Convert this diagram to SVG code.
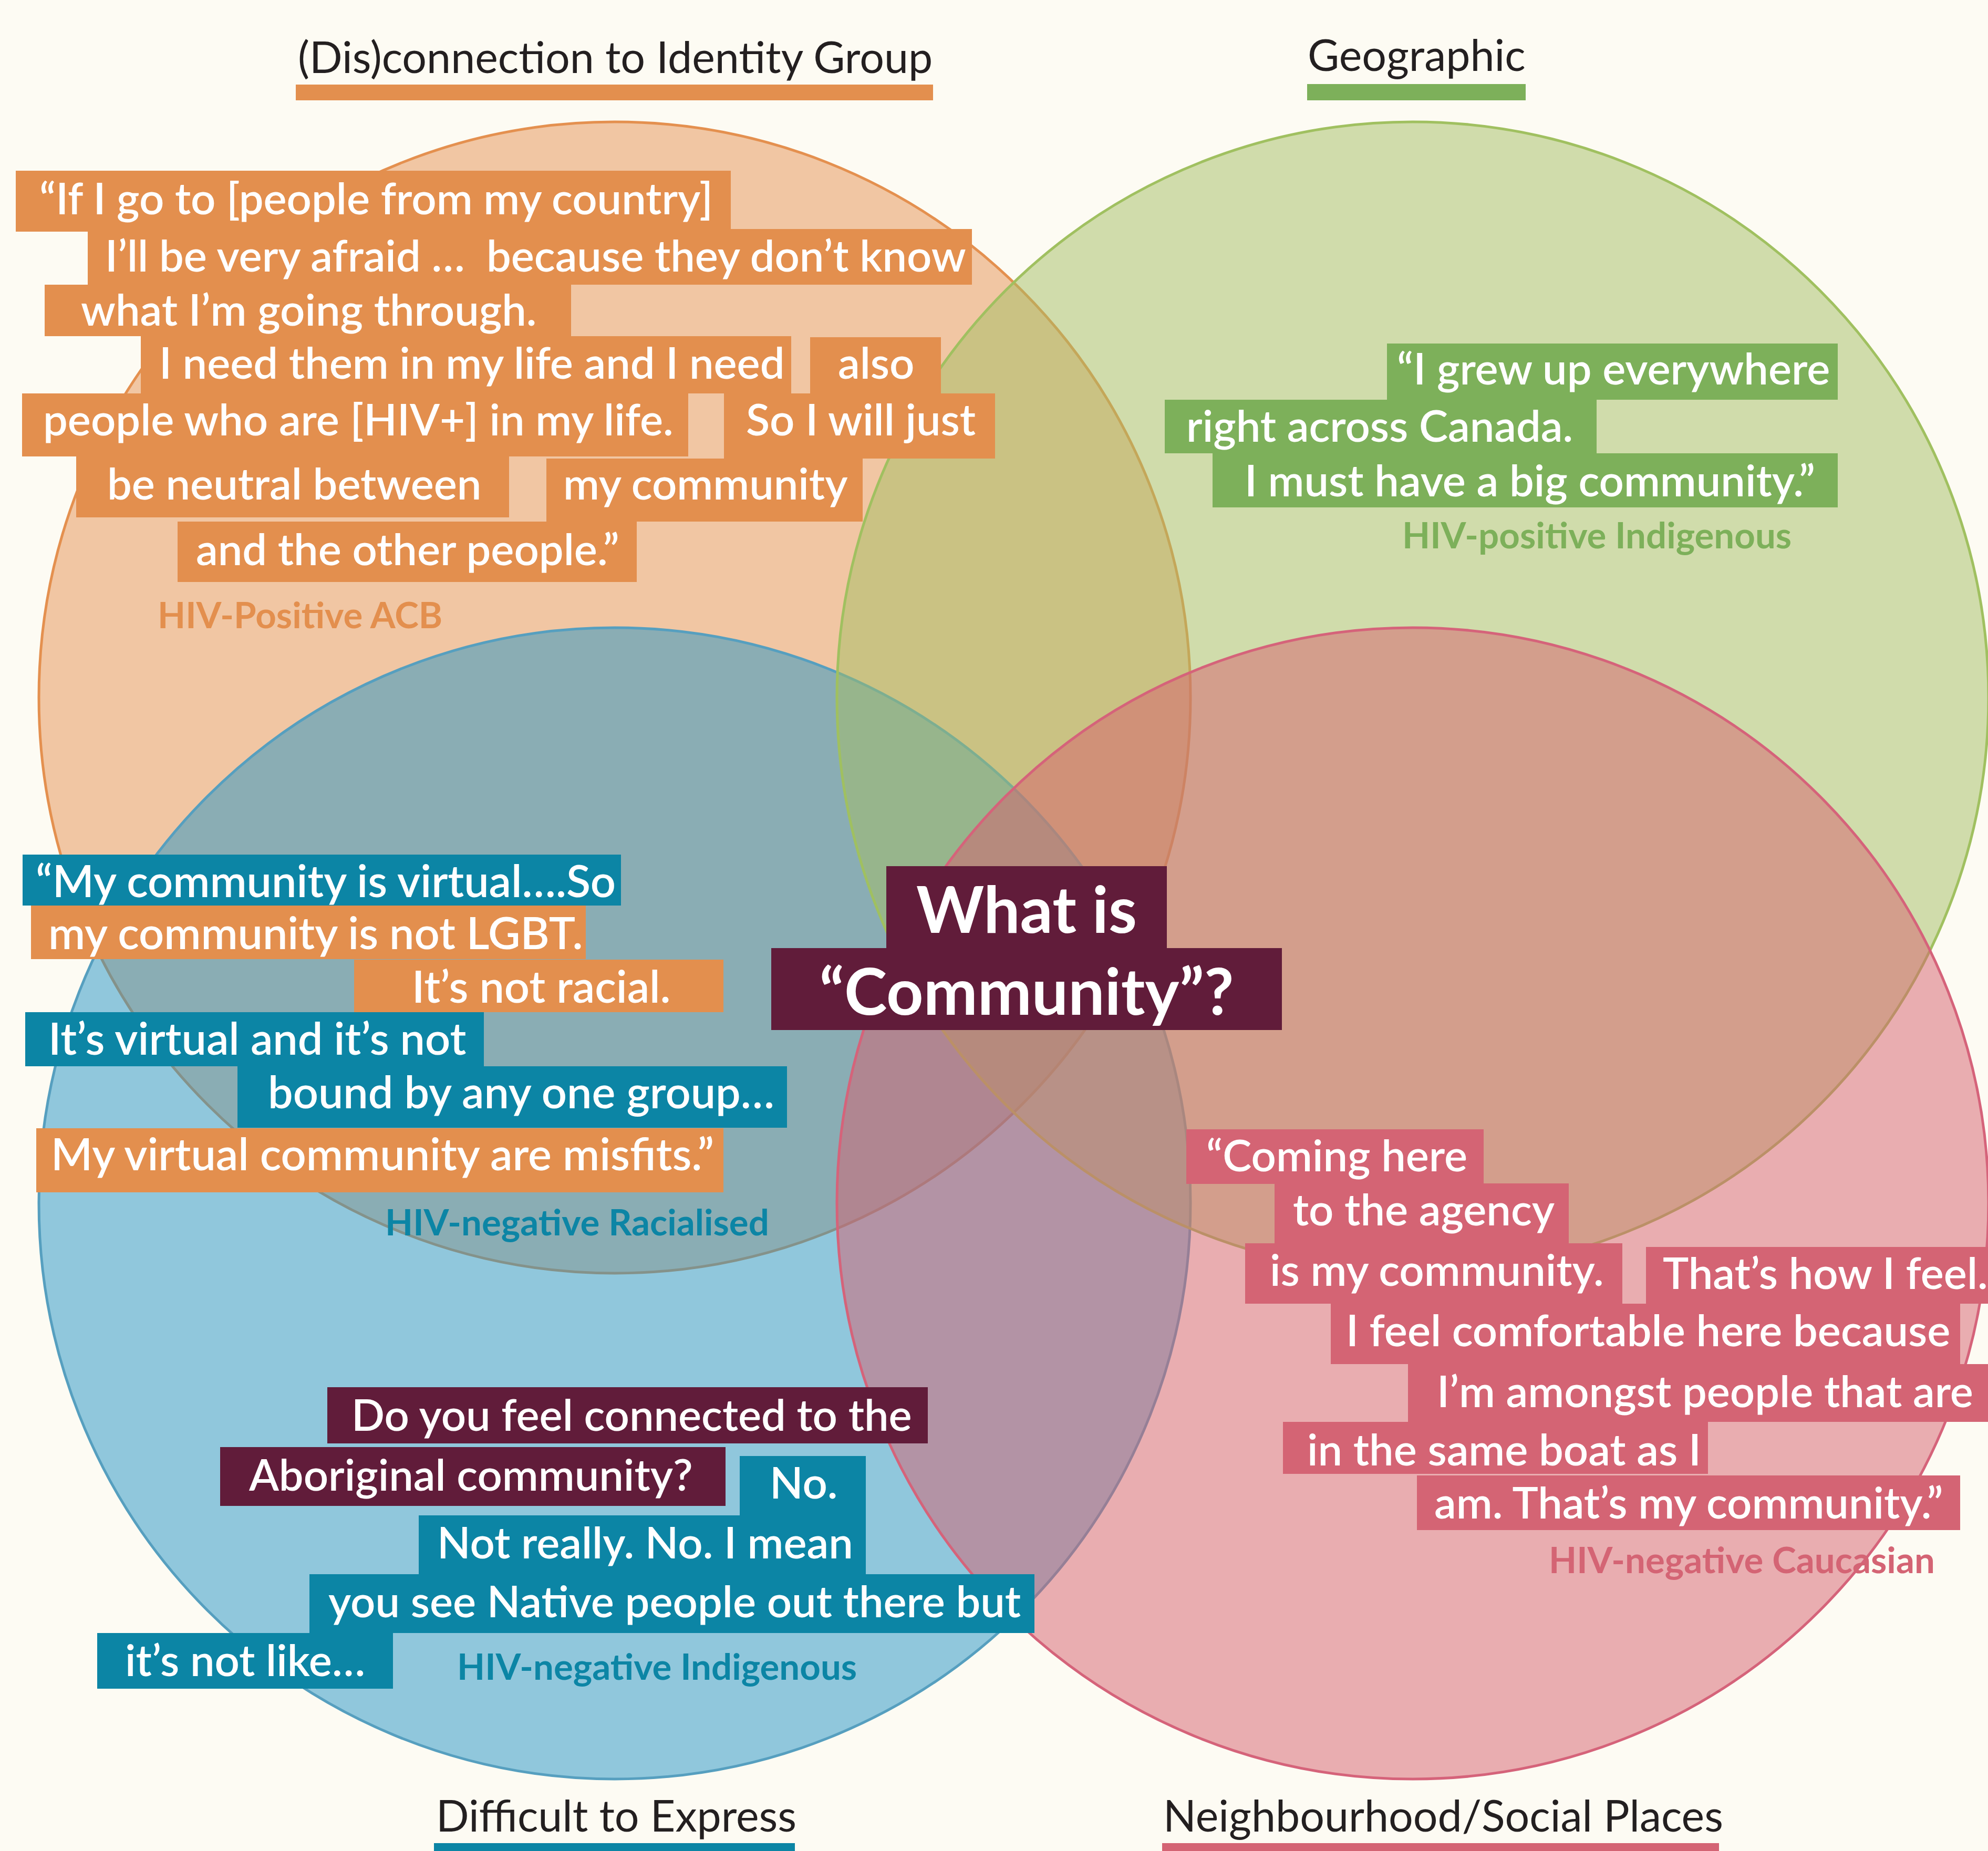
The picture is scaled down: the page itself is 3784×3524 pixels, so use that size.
<svg xmlns="http://www.w3.org/2000/svg" width="3784" height="3524" viewBox="0 0 3784 3524">
<style>
text{font-family:Lato,"Liberation Sans",sans-serif}
.q{font-size:83px;font-weight:600;fill:#fff}
.q2{font-size:84.5px}
.at{font-size:69px;font-weight:700}
.tt{font-size:82.5px;font-weight:400;fill:#231F20}
.hd{font-size:123px;font-weight:700;fill:#fff;text-anchor:middle}
.o{fill:#E38F4E}.g{fill:#7DB05A}.b{fill:#0C85A5}.p{fill:#D46474}.m{fill:#611C3A}
.c{stroke-width:5}
</style>
<rect width="3784" height="3524" fill="#FDFBF3"/>
<g id="circles">
<circle id="c-orange" class="c" cx="1170" cy="1328" r="1096" fill="#E59153" fill-opacity="0.5" stroke="#E4904F"/>
<circle id="c-blue" class="c" cx="1170" cy="2291" r="1096" fill="#2393C5" fill-opacity="0.5" stroke="#569FBF"/>
<circle id="c-green" class="c" cx="2689" cy="1328" r="1096" fill="#A3BD63" fill-opacity="0.5" stroke="#A0C060"/>
<circle id="c-pink" class="c" cx="2689" cy="2291" r="1096" fill="#D55F6D" fill-opacity="0.5" stroke="#D5637A"/>
</g>
<g id="title-identity">
<text class="tt" x="567" y="139">(Dis)connection to Identity Group</text>
<rect class="o" x="563" y="161" width="1213" height="30"/>
</g>
<g id="title-geographic">
<text class="tt" x="2489" y="135">Geographic</text>
<rect class="g" x="2488" y="160" width="416" height="31"/>
</g>
<g id="title-difficult">
<text class="tt" x="830" y="3487">Difficult to Express</text>
<rect class="b" x="826" y="3509" width="687" height="30"/>
</g>
<g id="title-neighbourhood">
<text class="tt" x="2214" y="3487">Neighbourhood/Social Places</text>
<rect class="p" x="2212" y="3509" width="1060" height="30"/>
</g>
<g id="quote-acb">
<rect class="o" x="30" y="325" width="1361" height="116"/>
<rect class="o" x="167" y="436" width="1683" height="106"/>
<rect class="o" x="85" y="542" width="1002" height="98"/>
<rect class="o" x="268" y="640" width="1238" height="109"/>
<rect class="o" x="1542" y="642" width="249" height="107"/>
<rect class="o" x="42" y="749" width="1268" height="120"/>
<rect class="o" x="1378" y="749" width="516" height="124"/>
<rect class="o" x="145" y="869" width="824" height="116"/>
<rect class="o" x="1040" y="873" width="602" height="120"/>
<rect class="o" x="338" y="993" width="874" height="115"/>
<text class="q" x="75" y="408">“If I go to [people from my country]</text>
<text class="q" x="200" y="517" xml:space="preserve">I’ll be very afraid …  because they don’t know</text>
<text class="q" x="154" y="620">what I’m going through.</text>
<text class="q" x="303" y="721">I need them in my life and I need</text>
<text class="q" x="1595" y="721">also</text>
<text class="q" x="82" y="829">people who are [HIV+] in my life.</text>
<text class="q" x="1420" y="829">So I will just</text>
<text class="q" x="204" y="951">be neutral between</text>
<text class="q" x="1072" y="951">my community</text>
<text class="q" x="373" y="1076">and the other people.”</text>
<text class="at o" x="300" y="1196">HIV-Positive ACB</text>
</g>
<g id="quote-geographic">
<rect class="g" x="2640" y="654" width="858" height="107"/>
<rect class="g" x="2217" y="761" width="822" height="102"/>
<rect class="g" x="2308" y="863" width="1190" height="103"/>
<text class="q" x="2659" y="732">“I grew up everywhere</text>
<text class="q" x="2258" y="841">right across Canada.</text>
<text class="q" x="2369" y="945">I must have a big community.”</text>
<text class="at g" x="2669" y="1044">HIV-positive Indigenous</text>
</g>
<g id="quote-racialised">
<rect class="b" x="43" y="1627" width="1139" height="97"/>
<rect class="o" x="59" y="1724" width="1056" height="102"/>
<rect class="o" x="674" y="1827" width="703" height="100"/>
<rect class="b" x="48" y="1927" width="873" height="103"/>
<rect class="b" x="452" y="2030" width="1046" height="117"/>
<rect class="o" x="69" y="2148" width="1308" height="122"/>
<text class="q q2" x="68" y="1708">“My community is virtual….So</text>
<text class="q q2" x="92" y="1807">my community is not LGBT.</text>
<text class="q q2" x="784" y="1909">It’s not racial.</text>
<text class="q q2" x="92" y="2008">It’s virtual and it’s not</text>
<text class="q q2" x="510" y="2110">bound by any one group…</text>
<text class="q q2" x="97" y="2228">My virtual community are misfits.”</text>
<text class="at b" x="733" y="2352">HIV-negative Racialised</text>
</g>
<g id="center-title">
<rect class="m" x="1687" y="1649" width="534" height="157"/>
<rect class="m" x="1468" y="1805" width="972" height="156"/>
<text class="hd" x="1954" y="1776">What is</text>
<text class="hd" x="1954" y="1932">“Community”?</text>
</g>
<g id="quote-caucasian">
<rect class="p" x="2258" y="2150" width="566" height="104"/>
<rect class="p" x="2426" y="2253" width="560" height="114"/>
<rect class="p" x="2370" y="2367" width="718" height="115"/>
<rect class="p" x="3133" y="2374" width="651" height="108"/>
<rect class="p" x="2533" y="2482" width="1198" height="115"/>
<rect class="p" x="2680" y="2597" width="1104" height="110"/>
<rect class="p" x="2442" y="2707" width="809" height="99"/>
<rect class="p" x="2697" y="2809" width="1034" height="104"/>
<text class="q" x="2296" y="2230">“Coming here</text>
<text class="q" x="2461" y="2333">to the agency</text>
<text class="q" x="2417" y="2448">is my community.</text>
<text class="q" x="3165" y="2454">That’s how I feel.</text>
<text class="q" x="2562" y="2563">I feel comfortable here because</text>
<text class="q" x="2735" y="2679">I’m amongst people that are</text>
<text class="q" x="2488" y="2790">in the same boat as I</text>
<text class="q" x="2730" y="2891">am. That’s my community.”</text>
<text class="at p" x="2948" y="2995">HIV-negative Caucasian</text>
</g>
<g id="quote-indigenous">
<rect class="m" x="623" y="2641" width="1143" height="107"/>
<rect class="m" x="419" y="2755" width="962" height="112"/>
<rect class="b" x="1408" y="2772" width="240" height="113"/>
<rect class="b" x="797" y="2885" width="851" height="112"/>
<rect class="b" x="589" y="2997" width="1380" height="112"/>
<rect class="b" x="185" y="3109" width="563" height="106"/>
<text class="q" x="669" y="2724">Do you feel connected to the</text>
<text class="q" x="474" y="2838">Aboriginal community?</text>
<text class="q" x="1465" y="2853">No.</text>
<text class="q" x="832" y="2967">Not really. No. I mean</text>
<text class="q" x="625" y="3079">you see Native people out there but</text>
<text class="q" x="238" y="3191">it’s not like…</text>
<text class="at b" x="870" y="3198">HIV-negative Indigenous</text>
</g>
<g id="connectors"/>
</svg>
